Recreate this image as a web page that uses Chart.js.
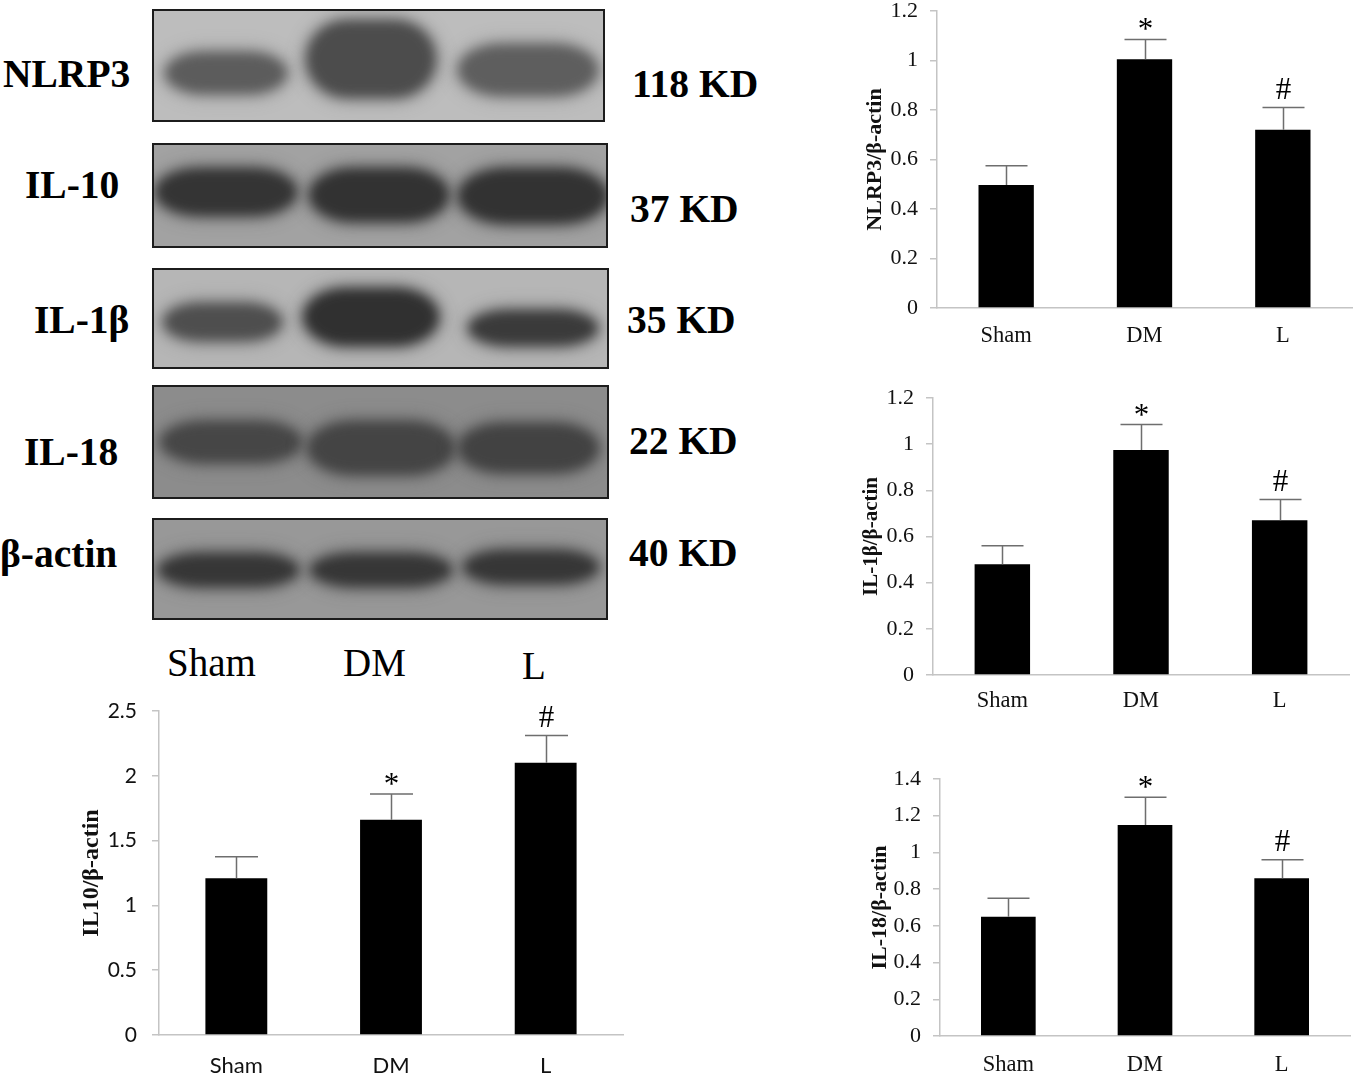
<!DOCTYPE html>
<html><head><meta charset="utf-8">
<script src="https://cdn.jsdelivr.net/npm/chart.js@4"></script>
<style>
html,body{margin:0;padding:0;background:#fff;width:1358px;height:1078px;overflow:hidden}
#page{position:relative;width:1358px;height:1078px}
canvas{position:absolute}
.panel{position:absolute;overflow:hidden;box-sizing:border-box;border:2px solid #1c1c1c}
.band{position:absolute;filter:blur(6px);border-radius:32%/50%}
.lab{position:absolute;white-space:nowrap;font-family:"Liberation Serif",serif;color:#000;line-height:1;transform:translateY(-50%)}
.b{font-weight:bold}
</style></head><body><div id="page"></div>
<script>
// ---- data ----
const categories = ['Sham','DM','L'];
const nlrp3Values = [0.497,1.005,0.72];
const nlrp3Tops   = [0.575,1.085,0.81];
const il1bValues  = [0.48,0.975,0.67];
const il1bTops    = [0.56,1.085,0.76];
const il18Values  = [0.65,1.15,0.86];
const il18Tops    = [0.75,1.30,0.96];
const il10Values  = [1.21,1.66,2.10];
const il10Tops    = [1.375,1.86,2.31];
const marks = ['','*','#'];
const blotNames = ['NLRP3','IL-10','IL-1β','IL-18','β-actin'];
const blotSizes = ['118 KD','37 KD','35 KD','22 KD','40 KD'];

// ---- western blot panels (photographic part of the figure) ----
const page = document.getElementById('page');
const blotPanels = [
 {x:152,y:9,w:453,h:113,bg:'#bdbdbd',bands:[[165,52,122,42,'#5c5c5c'],[306,20,130,78,'#4c4c4c'],[458,44,140,52,'#5e5e5e']]},
 {x:152,y:143,w:456,h:105,bg:'#a2a2a2',bands:[[155,168,142,48,'#343434'],[309,168,140,54,'#323232'],[458,168,150,56,'#323232']]},
 {x:152,y:268,w:457,h:101,bg:'#b6b6b6',bands:[[163,303,119,38,'#4e4e4e'],[303,288,136,58,'#303030'],[468,310,130,36,'#3a3a3a']]},
 {x:152,y:385,w:457,h:114,bg:'#8c8c8c',bands:[[160,421,142,42,'#464646'],[307,421,148,54,'#444444'],[458,423,141,50,'#424242']]},
 {x:152,y:518,w:456,h:102,bg:'#989898',bands:[[158,553,141,34,'#363636'],[310,553,142,34,'#363636'],[463,550,136,34,'#363636']]}
];
blotPanels.forEach(p=>{
  const d=document.createElement('div');d.className='panel';
  d.style.cssText=`left:${p.x}px;top:${p.y}px;width:${p.w}px;height:${p.h}px;background:${p.bg}`;
  p.bands.forEach(b=>{
    const s=document.createElement('div');s.className='band';
    s.style.cssText=`left:${b[0]-p.x-2}px;top:${b[1]-p.y-2}px;width:${b[2]}px;height:${b[3]}px;background:${b[4]};box-shadow:0 0 12px 4px ${b[4]}66`;
    d.appendChild(s);
  });
  page.appendChild(d);
});
function label(t,x,y,size,bold){
  const s=document.createElement('div');s.className='lab'+(bold?' b':'');s.textContent=t;
  s.style.left=x+'px';s.style.top=y+'px';s.style.fontSize=size+'px';page.appendChild(s);
}
[[3,75],[25,186],[34,321],[24,453],[0,555]].forEach((q,i)=>label(blotNames[i],q[0],q[1],39.5,true));
[[632,85],[630,210],[627,321],[629,442],[629,554]].forEach((q,i)=>label(blotSizes[i],q[0],q[1],39.5,true));
[[167,662],[343,662],[522,665]].forEach((q,i)=>label(categories[i],q[0],q[1],39,false));

// ---- error bars + significance marks, from the scales ----
const extras = {
  id:'extras',
  afterDatasetsDraw(c){
    const o=c.options.plugins.extras, x=c.scales.x, y=c.scales.y, g=c.ctx;
    g.save();
    o.values.forEach((v,i)=>{
      const px=Math.round(x.getPixelForValue(i))+0.5, top=y.getPixelForValue(o.tops[i]), base=y.getPixelForValue(v);
      g.strokeStyle='#6e6e6e';g.lineWidth=1.5;g.beginPath();
      g.moveTo(px,base);g.lineTo(px,top);g.moveTo(px-o.cap/2,top);g.lineTo(px+o.cap/2,top);g.stroke();
      if(marks[i]){
        g.fillStyle='#000';g.textAlign='center';g.textBaseline='alphabetic';
        g.font='31px "Liberation Serif"';
        g.fillText(marks[i],px,top-(marks[i]==='#'?9:0));
      }
    });
    g.restore();
  }
};
function barChart(b){
  const leftPad=100, topPad=34, botPad=52;
  const cv=document.createElement('canvas');
  const W=b.right-b.left+leftPad+3, H=b.bottom-b.top+topPad+botPad;
  cv.width=W;cv.height=H;
  cv.style.cssText=`left:${b.left-leftPad}px;top:${b.top-topPad}px;width:${W}px;height:${H}px`;
  page.appendChild(cv);
  new Chart(cv,{
    type:'bar',
    data:{labels:categories,datasets:[{data:b.values,backgroundColor:'#000',borderWidth:0,barPercentage:1,categoryPercentage:0.4}]},
    plugins:[extras],
    options:{
      responsive:false,animation:false,devicePixelRatio:1,
      layout:{padding:{top:topPad,right:3,left:0,bottom:0}},
      plugins:{legend:{display:false},tooltip:{enabled:false},extras:{values:b.values,tops:b.tops,cap:b.cap}},
      scales:{
        x:{afterFit:s=>{s.height=botPad},border:{color:'#c4c4c4',width:1.5},
           grid:{display:false,drawTicks:false},
           ticks:{padding:b.xPad,maxRotation:0,color:'#111',font:{family:b.tickFamily,size:b.xSize}}},
        y:{afterFit:s=>{s.width=leftPad},min:0,max:b.max,
           border:{color:'#c4c4c4',width:1.5},
           grid:{drawOnChartArea:false,drawTicks:true,tickLength:7,color:'#c4c4c4',lineWidth:1.5},
           ticks:{stepSize:b.step,padding:b.yPad,color:'#111',font:{family:b.tickFamily,size:b.ySize},callback:v=>String(+v.toFixed(1))},
           title:{display:true,text:b.title,color:'#111',font:{family:'Liberation Serif',weight:'bold',size:b.titleSize},
                  padding:{top:b.titleX-(b.left-leftPad)-b.titleSize*0.6,bottom:0}}}
      }
    }
  });
}
const serif='Liberation Serif';
barChart({left:937,right:1352,top:11,bottom:308,max:1.2,step:0.2,values:nlrp3Values,tops:nlrp3Tops,cap:42,title:'NLRP3/β-actin',titleSize:22,titleX:875,tickFamily:serif,ySize:22,xSize:22.5,yPad:12,xPad:15});
barChart({left:933,right:1349,top:398,bottom:675,max:1.2,step:0.2,values:il1bValues,tops:il1bTops,cap:42,title:'IL-1β/β-actin',titleSize:21,titleX:872,tickFamily:serif,ySize:22,xSize:22.5,yPad:12,xPad:13});
barChart({left:940,right:1350,top:779,bottom:1036,max:1.4,step:0.2,values:il18Values,tops:il18Tops,cap:42,title:'IL-18/β-actin',titleSize:22,titleX:880,tickFamily:serif,ySize:22,xSize:22.5,yPad:12,xPad:16});
barChart({left:159,right:623,top:711,bottom:1035,max:2.5,step:0.5,values:il10Values,tops:il10Tops,cap:43,title:'IL10/β-actin',titleSize:24,titleX:92,tickFamily:'Lato',ySize:21,xSize:22,yPad:15,xPad:18});
</script></body></html>
